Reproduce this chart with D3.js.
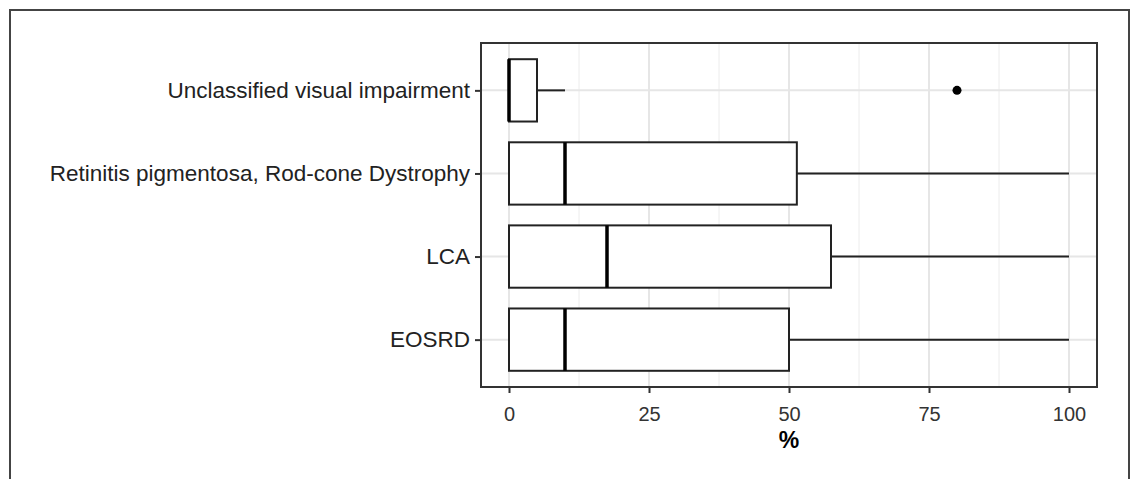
<!DOCTYPE html>
<html lang="en">
<head>
  <meta charset="utf-8">
  <script src="https://d3js.org/d3.v7.min.js"></script>
  <style>
    body { margin: 0; background: #fff; }
    text { font-family: "Liberation Sans", Arial, sans-serif; }
  </style>
  <title>Boxplot</title>
</head>
<body>
  <div id="my_dataviz"></div>
<script>

  // categories, top to bottom
  const categories = ["Unclassified visual impairment", "Retinitis pigmentosa, Rod-cone Dystrophy", "LCA", "EOSRD"];
  // box stats (%)
  const whiskerLow = [0, 0, 0, 0];
  const q1 = [0, 0, 0, 0];
  const median = [0, 10, 17.5, 10];
  const q3 = [5, 51.4, 57.5, 50];
  const whiskerHigh = [10, 100, 100, 100];
  const outliers = [[80], [], [], []];
  const xTicks = [0, 25, 50, 75, 100];
  const xMinor = [12.5, 37.5, 62.5, 87.5];

  const W = 1133, H = 479;
  const panel = { left: 481, top: 43, right: 1097, bottom: 387 };

  const svg = d3.select("#my_dataviz")
    .append("svg")
    .attr("width", W)
    .attr("height", H);

  // outer frame
  svg.append("rect")
    .attr("x", 10).attr("y", 10)
    .attr("width", 1119).attr("height", 500)
    .attr("fill", "none")
    .attr("stroke", "#444")
    .attr("stroke-width", 2);

  const x = d3.scaleLinear()
    .domain([-5, 105])
    .range([panel.left, panel.right]);

  const y = d3.scalePoint()
    .domain(categories)
    .range([panel.top, panel.bottom])
    .padding(0.57);

  const boxH = y.step() * 0.75;

  const g = svg.append("g");

  // grid
  g.selectAll(".minor")
    .data(xMinor)
    .join("line")
    .attr("x1", d => x(d)).attr("x2", d => x(d))
    .attr("y1", panel.top).attr("y2", panel.bottom)
    .attr("stroke", "#ececec").attr("stroke-width", 1);
  g.selectAll(".major")
    .data(xTicks)
    .join("line")
    .attr("x1", d => x(d)).attr("x2", d => x(d))
    .attr("y1", panel.top).attr("y2", panel.bottom)
    .attr("stroke", "#e6e6e6").attr("stroke-width", 2);
  g.selectAll(".hgrid")
    .data(categories)
    .join("line")
    .attr("x1", panel.left).attr("x2", panel.right)
    .attr("y1", d => y(d)).attr("y2", d => y(d))
    .attr("stroke", "#e6e6e6").attr("stroke-width", 2);

  const rows = categories.map((c, i) => ({
    cat: c, lo: whiskerLow[i], q1: q1[i], med: median[i], q3: q3[i], hi: whiskerHigh[i], out: outliers[i]
  }));

  // whiskers
  g.selectAll(".wh")
    .data(rows)
    .join("line")
    .attr("x1", d => x(d.q3)).attr("x2", d => x(d.hi))
    .attr("y1", d => y(d.cat)).attr("y2", d => y(d.cat))
    .attr("stroke", "#222").attr("stroke-width", 2);
  g.selectAll(".wl")
    .data(rows.filter(d => d.lo < d.q1))
    .join("line")
    .attr("x1", d => x(d.lo)).attr("x2", d => x(d.q1))
    .attr("y1", d => y(d.cat)).attr("y2", d => y(d.cat))
    .attr("stroke", "#222").attr("stroke-width", 2);

  // boxes
  g.selectAll(".box")
    .data(rows)
    .join("rect")
    .attr("x", d => x(d.q1))
    .attr("y", d => y(d.cat) - boxH / 2)
    .attr("width", d => x(d.q3) - x(d.q1))
    .attr("height", boxH)
    .attr("fill", "#fff")
    .attr("stroke", "#222")
    .attr("stroke-width", 2);

  // medians
  g.selectAll(".med")
    .data(rows)
    .join("line")
    .attr("x1", d => x(d.med)).attr("x2", d => x(d.med))
    .attr("y1", d => y(d.cat) - boxH / 2).attr("y2", d => y(d.cat) + boxH / 2)
    .attr("stroke", "#000").attr("stroke-width", 3.5);

  // outliers
  g.selectAll(".out")
    .data(rows.flatMap(d => d.out.map(v => ({ cat: d.cat, v }))))
    .join("circle")
    .attr("cx", d => x(d.v))
    .attr("cy", d => y(d.cat))
    .attr("r", 4.5)
    .attr("fill", "#000");

  // panel border
  svg.append("rect")
    .attr("x", panel.left).attr("y", panel.top)
    .attr("width", panel.right - panel.left)
    .attr("height", panel.bottom - panel.top)
    .attr("fill", "none")
    .attr("stroke", "#333")
    .attr("stroke-width", 2);

  // X axis
  const xAxis = svg.append("g")
    .attr("transform", `translate(0, ${panel.bottom})`)
    .call(d3.axisBottom(x).tickValues(xTicks).tickSize(6).tickPadding(14));
  xAxis.select(".domain").remove();
  xAxis.selectAll("line").attr("stroke", "#333").attr("stroke-width", 2);
  xAxis.selectAll("text")
    .attr("fill", "#333")
    .style("font-size", "20px");

  // Y axis
  const yAxis = svg.append("g")
    .attr("transform", `translate(${panel.left}, 0)`)
    .call(d3.axisLeft(y).tickSize(6).tickPadding(5));
  yAxis.select(".domain").remove();
  yAxis.selectAll("line").attr("stroke", "#333").attr("stroke-width", 2);
  yAxis.selectAll("text")
    .attr("fill", "#222")
    .style("font-size", "22.5px");

  // axis title
  svg.append("text")
    .attr("x", (panel.left + panel.right) / 2)
    .attr("y", 448)
    .attr("text-anchor", "middle")
    .style("font-size", "23px")
    .style("font-weight", "bold")
    .attr("fill", "#000")
    .text("%");

</script>
</body>
</html>
